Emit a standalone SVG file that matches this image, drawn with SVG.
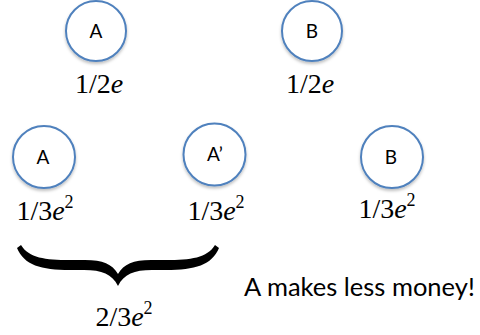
<svg xmlns="http://www.w3.org/2000/svg" width="480" height="335" viewBox="0 0 480 335">
  <defs>
    <filter id="sh" x="-20%" y="-20%" width="140%" height="150%">
      <feDropShadow dx="0" dy="2" stdDeviation="1.5" flood-color="#000" flood-opacity="0.25"/>
    </filter>
    <style>
      .node circle { fill: #ffffff; stroke: #4f81bd; stroke-width: 2; filter: url(#sh); }
    </style>
  </defs>
  <rect width="480" height="335" fill="#ffffff"/>

  <g id="nodeA1" class="node">
    <circle cx="96" cy="31" r="30"/>
    <text x="96" y="37.5" font-family="Lato, sans-serif" font-size="19" text-anchor="middle">A</text>
  </g>
  <g id="nodeB1" class="node">
    <circle cx="312" cy="31" r="30"/>
    <text x="312" y="37.5" font-family="Lato, sans-serif" font-size="19" text-anchor="middle">B</text>
  </g>
  <g id="nodeA2" class="node">
    <circle cx="44" cy="157" r="31"/>
    <text x="43" y="163.5" font-family="Lato, sans-serif" font-size="19" text-anchor="middle">A</text>
  </g>
  <g id="nodeA3" class="node">
    <circle cx="214.5" cy="154.5" r="31"/>
    <text x="215" y="161" font-family="Lato, sans-serif" font-size="19" text-anchor="middle">A’</text>
  </g>
  <g id="nodeB2" class="node">
    <circle cx="392" cy="157" r="31"/>
    <text x="391" y="163.5" font-family="Lato, sans-serif" font-size="19" text-anchor="middle">B</text>
  </g>

  <g id="labels" font-family="'Liberation Serif', serif" font-size="28" text-anchor="middle" fill="#000">
    <text x="99" y="93">1/2<tspan font-style="italic">e</tspan></text>
    <text x="310" y="93">1/2<tspan font-style="italic">e</tspan></text>
    <text x="45" y="220">1/3<tspan font-style="italic">e</tspan><tspan font-size="18" dy="-12">2</tspan></text>
    <text x="216" y="220">1/3<tspan font-style="italic">e</tspan><tspan font-size="18" dy="-12">2</tspan></text>
    <text x="387" y="218">1/3<tspan font-style="italic">e</tspan><tspan font-size="18" dy="-12">2</tspan></text>
    <text x="124" y="326">2/3<tspan font-style="italic">e</tspan><tspan font-size="18" dy="-12">2</tspan></text>
  </g>

  <g id="brace">
    <path fill="#000" d="M 21 245 C 29 258, 45 260, 70 260 L 85 260 C 103 260, 112 264, 118 274 C 124 264, 133 260, 151 260 L 166 260 C 191 260, 207 258, 215 245 L 219 248 C 212 265, 195 270, 166 270 L 152 270 C 134 270, 124 274, 118 286 C 112 274, 102 270, 84 270 L 70 270 C 41 270, 24 265, 17 248 Z"/>
  </g>

  <text x="244" y="296" font-family="Lato, sans-serif" font-size="25.5" fill="#000">A makes less money!</text>
</svg>
